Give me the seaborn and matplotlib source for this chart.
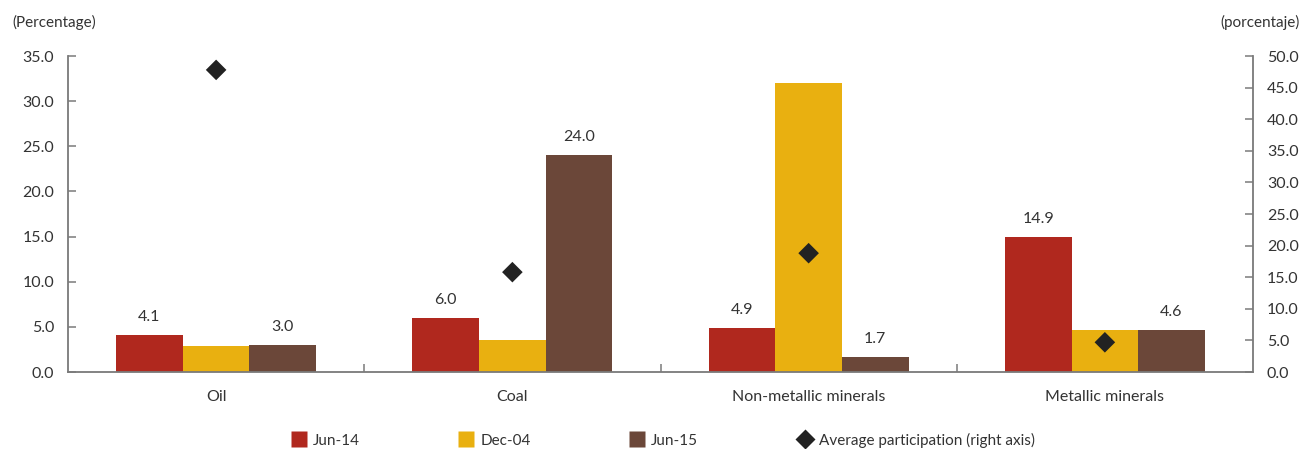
import matplotlib
matplotlib.use("Agg")
import matplotlib.pyplot as plt
from matplotlib.ticker import FormatStrFormatter, FixedLocator
from matplotlib.lines import Line2D
import seaborn as sns
import pandas as pd

# Sector data
categories = ["Oil", "Coal", "Non-metallic minerals", "Metallic minerals"]
series_names = ["Jun-14", "Dec-04", "Jun-15"]
jun14 = [4.1, 6.0, 4.9, 14.9]
dec04 = [2.9, 3.5, 32.0, 4.7]
jun15 = [3.0, 24.0, 1.7, 4.6]
avg_participation = [47.8, 15.8, 18.8, 4.7]
labelled_series = ["Jun-14", "Jun-15"]

colors = {"Jun-14": "#B0281E", "Dec-04": "#E9B010", "Jun-15": "#6B4739"}
text_color = "#333333"
spine_color = "#7a7a7a"

sns.set_theme(style="white")
plt.rcParams["font.family"] = ["Lato", "DejaVu Sans"]

df = pd.DataFrame({
    "sector": categories * 3,
    "series": [s for s in series_names for _ in categories],
    "value": jun14 + dec04 + jun15,
})
avg_df = pd.DataFrame({"sector": categories, "avg": avg_participation})

fig = plt.figure(figsize=(13.09, 4.49), dpi=100)
ax = fig.add_axes([68 / 1309, 77 / 449, (1253 - 68) / 1309, (372 - 56) / 449])

sns.barplot(data=df, x="sector", y="value", hue="series", order=categories,
            hue_order=series_names, palette=colors, width=0.675,
            saturation=1, linewidth=0, ax=ax, legend=False)

# Value labels for the Jun-14 and Jun-15 series
values = {"Jun-14": jun14, "Dec-04": dec04, "Jun-15": jun15}
for container, name in zip(ax.containers, series_names):
    if name in labelled_series:
        ax.bar_label(container, labels=[f"{v:.1f}" for v in values[name]],
                     padding=8, fontsize=11.5, color=text_color)

ax.set_xlim(-0.5, 3.5)
ax.set_ylim(0, 35)
ax.set_yticks([0, 5, 10, 15, 20, 25, 30, 35])
ax.yaxis.set_major_formatter(FormatStrFormatter("%.1f"))
ax.set_xlabel("")
ax.set_ylabel("")

ax2 = ax.twinx()
sns.scatterplot(data=avg_df, x="sector", y="avg", marker="D", s=110,
                color="#222222", edgecolor="none", ax=ax2, legend=False, zorder=5)
ax2.set_ylim(0, 50)
ax2.set_yticks([0, 5, 10, 15, 20, 25, 30, 35, 40, 45, 50])
ax2.yaxis.set_major_formatter(FormatStrFormatter("%.1f"))
ax2.set_ylabel("")
ax2.set_xlim(-0.5, 3.5)

for a in (ax, ax2):
    a.spines["top"].set_visible(False)
    for side in ("left", "right", "bottom"):
        a.spines[side].set_color(spine_color)
        a.spines[side].set_linewidth(1.3)

ax.spines["right"].set_visible(False)
ax2.spines["left"].set_visible(False)
ax2.spines["bottom"].set_visible(False)

ax.tick_params(axis="y", direction="in", length=6, width=1.1, color=spine_color,
               labelsize=11.5, labelcolor=text_color, pad=10, left=True)
ax2.tick_params(axis="y", direction="in", length=6, width=1.1, color=spine_color,
                labelsize=11.5, labelcolor=text_color, pad=10, right=True)
ax.tick_params(axis="x", length=0, labelsize=11.5, labelcolor=text_color, pad=13)
ax.xaxis.set_minor_locator(FixedLocator([0.5, 1.5, 2.5]))
ax.tick_params(axis="x", which="minor", direction="in", length=6, width=1.1,
               color=spine_color, bottom=True)

fig.text(12 / 1309, 1 - 22 / 449, "(Percentage)", fontsize=11, color=text_color,
         va="center", ha="left")
fig.text(1300 / 1309, 1 - 22 / 449, "(porcentaje)", fontsize=11, color=text_color,
         va="center", ha="right")

handles = [Line2D([], [], marker="s", linestyle="none", markersize=12,
                  markerfacecolor=colors[s], markeredgecolor="none") for s in series_names]
handles.append(Line2D([], [], marker="D", linestyle="none", markersize=10,
                      markerfacecolor="#222222", markeredgecolor="none"))
labels = series_names + ["Average participation (right axis)"]
leg = fig.legend(handles, labels, loc="center", bbox_to_anchor=(663 / 1309, 1 - 440 / 449),
                 ncol=4, frameon=False, fontsize=11, handletextpad=0.4,
                 columnspacing=6.5, handlelength=1.0)
for t in leg.get_texts():
    t.set_color(text_color)

fig.savefig("out.png", dpi=100)
